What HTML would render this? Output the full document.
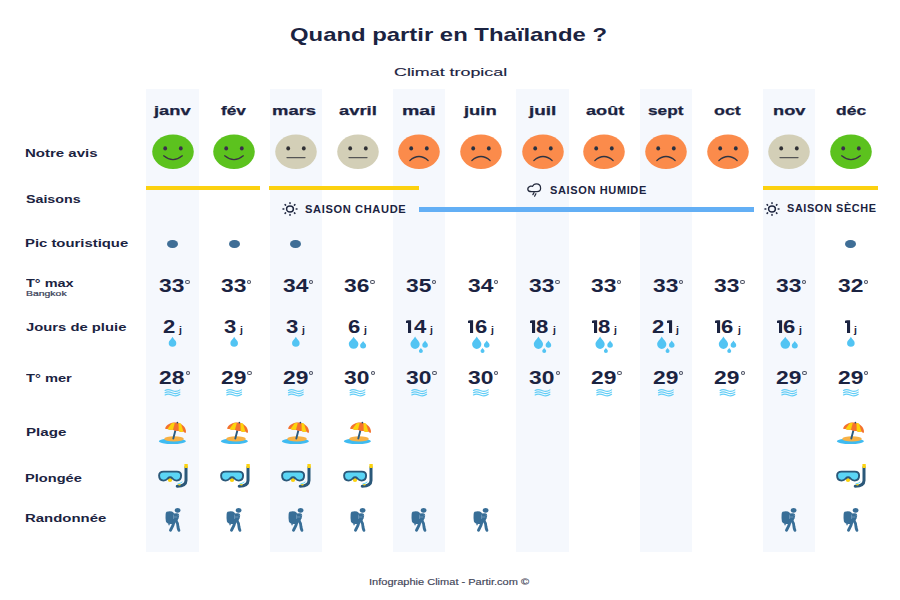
<!DOCTYPE html>
<html><head><meta charset="utf-8"><style>
html,body{margin:0;padding:0;background:#fff;}
body{width:900px;height:600px;position:relative;overflow:hidden;font-family:'Liberation Sans', sans-serif;}
.t{position:absolute;white-space:nowrap;line-height:1;transform-origin:0 0;}
.col{position:absolute;top:89.4px;width:52.4px;height:462.6px;background:#f5f8fd;}
.ln{position:absolute;height:4.2px;}
.ic{position:absolute;overflow:visible;}
.dot{position:absolute;top:239.6px;width:11px;height:8.7px;border-radius:50%;background:#3f6e96;}
.deg{position:absolute;width:2.3px;height:1.9px;border:0.9px solid #4b5062;border-radius:50%;}
</style></head><body>
<div class="col" style="left:146.30px"></div>
<div class="col" style="left:269.64px"></div>
<div class="col" style="left:392.98px"></div>
<div class="col" style="left:516.32px"></div>
<div class="col" style="left:639.66px"></div>
<div class="col" style="left:763.00px"></div>
<svg class="ic" style="left:151.50px;top:134px" width="42" height="36" viewBox="0 0 42 36"><ellipse cx="21" cy="17.75" rx="20.8" ry="17.25" fill="#5cc21e"/><ellipse cx="13.2" cy="14.4" rx="1.9" ry="2.1" fill="#3b2d4b"/><ellipse cx="28.8" cy="14.4" rx="1.9" ry="2.1" fill="#3b2d4b"/><path d="M11.7 21.8 Q21 29.6 30.3 21.8" fill="none" stroke="#3b3145" stroke-width="1.3" stroke-linecap="round"/></svg>
<svg class="ic" style="left:213.17px;top:134px" width="42" height="36" viewBox="0 0 42 36"><ellipse cx="21" cy="17.75" rx="20.8" ry="17.25" fill="#5cc21e"/><ellipse cx="13.2" cy="14.4" rx="1.9" ry="2.1" fill="#3b2d4b"/><ellipse cx="28.8" cy="14.4" rx="1.9" ry="2.1" fill="#3b2d4b"/><path d="M11.7 21.8 Q21 29.6 30.3 21.8" fill="none" stroke="#3b3145" stroke-width="1.3" stroke-linecap="round"/></svg>
<svg class="ic" style="left:274.84px;top:134px" width="42" height="36" viewBox="0 0 42 36"><ellipse cx="21" cy="17.75" rx="20.8" ry="17.25" fill="#d3cfb7"/><ellipse cx="13.2" cy="14.4" rx="1.9" ry="2.1" fill="#2f2f33"/><ellipse cx="28.8" cy="14.4" rx="1.9" ry="2.1" fill="#2f2f33"/><path d="M12 23.6 H30" fill="none" stroke="#555" stroke-width="1.3" stroke-linecap="round"/></svg>
<svg class="ic" style="left:336.51px;top:134px" width="42" height="36" viewBox="0 0 42 36"><ellipse cx="21" cy="17.75" rx="20.8" ry="17.25" fill="#d3cfb7"/><ellipse cx="13.2" cy="14.4" rx="1.9" ry="2.1" fill="#2f2f33"/><ellipse cx="28.8" cy="14.4" rx="1.9" ry="2.1" fill="#2f2f33"/><path d="M12 23.6 H30" fill="none" stroke="#555" stroke-width="1.3" stroke-linecap="round"/></svg>
<svg class="ic" style="left:398.18px;top:134px" width="42" height="36" viewBox="0 0 42 36"><ellipse cx="21" cy="17.75" rx="20.8" ry="17.25" fill="#fb8b4b"/><ellipse cx="13.2" cy="14.4" rx="1.9" ry="2.1" fill="#283040"/><ellipse cx="28.8" cy="14.4" rx="1.9" ry="2.1" fill="#283040"/><path d="M11.9 26.5 Q21 18.6 30.1 26.5" fill="none" stroke="#2e3442" stroke-width="1.3" stroke-linecap="round"/></svg>
<svg class="ic" style="left:459.85px;top:134px" width="42" height="36" viewBox="0 0 42 36"><ellipse cx="21" cy="17.75" rx="20.8" ry="17.25" fill="#fb8b4b"/><ellipse cx="13.2" cy="14.4" rx="1.9" ry="2.1" fill="#283040"/><ellipse cx="28.8" cy="14.4" rx="1.9" ry="2.1" fill="#283040"/><path d="M11.9 26.5 Q21 18.6 30.1 26.5" fill="none" stroke="#2e3442" stroke-width="1.3" stroke-linecap="round"/></svg>
<svg class="ic" style="left:521.52px;top:134px" width="42" height="36" viewBox="0 0 42 36"><ellipse cx="21" cy="17.75" rx="20.8" ry="17.25" fill="#fb8b4b"/><ellipse cx="13.2" cy="14.4" rx="1.9" ry="2.1" fill="#283040"/><ellipse cx="28.8" cy="14.4" rx="1.9" ry="2.1" fill="#283040"/><path d="M11.9 26.5 Q21 18.6 30.1 26.5" fill="none" stroke="#2e3442" stroke-width="1.3" stroke-linecap="round"/></svg>
<svg class="ic" style="left:583.19px;top:134px" width="42" height="36" viewBox="0 0 42 36"><ellipse cx="21" cy="17.75" rx="20.8" ry="17.25" fill="#fb8b4b"/><ellipse cx="13.2" cy="14.4" rx="1.9" ry="2.1" fill="#283040"/><ellipse cx="28.8" cy="14.4" rx="1.9" ry="2.1" fill="#283040"/><path d="M11.9 26.5 Q21 18.6 30.1 26.5" fill="none" stroke="#2e3442" stroke-width="1.3" stroke-linecap="round"/></svg>
<svg class="ic" style="left:644.86px;top:134px" width="42" height="36" viewBox="0 0 42 36"><ellipse cx="21" cy="17.75" rx="20.8" ry="17.25" fill="#fb8b4b"/><ellipse cx="13.2" cy="14.4" rx="1.9" ry="2.1" fill="#283040"/><ellipse cx="28.8" cy="14.4" rx="1.9" ry="2.1" fill="#283040"/><path d="M11.9 26.5 Q21 18.6 30.1 26.5" fill="none" stroke="#2e3442" stroke-width="1.3" stroke-linecap="round"/></svg>
<svg class="ic" style="left:706.53px;top:134px" width="42" height="36" viewBox="0 0 42 36"><ellipse cx="21" cy="17.75" rx="20.8" ry="17.25" fill="#fb8b4b"/><ellipse cx="13.2" cy="14.4" rx="1.9" ry="2.1" fill="#283040"/><ellipse cx="28.8" cy="14.4" rx="1.9" ry="2.1" fill="#283040"/><path d="M11.9 26.5 Q21 18.6 30.1 26.5" fill="none" stroke="#2e3442" stroke-width="1.3" stroke-linecap="round"/></svg>
<svg class="ic" style="left:768.20px;top:134px" width="42" height="36" viewBox="0 0 42 36"><ellipse cx="21" cy="17.75" rx="20.8" ry="17.25" fill="#d3cfb7"/><ellipse cx="13.2" cy="14.4" rx="1.9" ry="2.1" fill="#2f2f33"/><ellipse cx="28.8" cy="14.4" rx="1.9" ry="2.1" fill="#2f2f33"/><path d="M12 23.6 H30" fill="none" stroke="#555" stroke-width="1.3" stroke-linecap="round"/></svg>
<svg class="ic" style="left:829.87px;top:134px" width="42" height="36" viewBox="0 0 42 36"><ellipse cx="21" cy="17.75" rx="20.8" ry="17.25" fill="#5cc21e"/><ellipse cx="13.2" cy="14.4" rx="1.9" ry="2.1" fill="#3b2d4b"/><ellipse cx="28.8" cy="14.4" rx="1.9" ry="2.1" fill="#3b2d4b"/><path d="M11.7 21.8 Q21 29.6 30.3 21.8" fill="none" stroke="#3b3145" stroke-width="1.3" stroke-linecap="round"/></svg>
<div class="ln" style="left:146.2px;width:114px;top:185.8px;background:#fcd10f"></div>
<div class="ln" style="left:269.1px;width:150px;top:185.8px;background:#fcd10f"></div>
<div class="ln" style="left:762.9px;width:114.7px;top:185.7px;background:#fcd10f"></div>
<div class="ln" style="left:419.1px;width:334.5px;top:207.4px;background:#63aff5"></div>
<svg class="ic" style="left:280.70px;top:201.00px" width="18" height="16" viewBox="0 0 18 16"><g stroke="#1f2740" stroke-width="1.5" stroke-linecap="round" fill="none"><ellipse cx="9" cy="8" rx="3.4" ry="2.95"/><line x1="15.21" y1="8.00" x2="16.01" y2="8.00"/><line x1="13.39" y1="11.89" x2="13.95" y2="12.38"/><line x1="9.00" y1="13.50" x2="9.00" y2="14.20"/><line x1="4.61" y1="11.89" x2="4.05" y2="12.38"/><line x1="2.79" y1="8.00" x2="1.99" y2="8.00"/><line x1="4.61" y1="4.11" x2="4.05" y2="3.62"/><line x1="9.00" y1="2.50" x2="9.00" y2="1.80"/><line x1="13.39" y1="4.11" x2="13.95" y2="3.62"/></g></svg>
<svg class="ic" style="left:762.80px;top:201.10px" width="18" height="16" viewBox="0 0 18 16"><g stroke="#1f2740" stroke-width="1.5" stroke-linecap="round" fill="none"><ellipse cx="9" cy="8" rx="3.4" ry="2.95"/><line x1="15.21" y1="8.00" x2="16.01" y2="8.00"/><line x1="13.39" y1="11.89" x2="13.95" y2="12.38"/><line x1="9.00" y1="13.50" x2="9.00" y2="14.20"/><line x1="4.61" y1="11.89" x2="4.05" y2="12.38"/><line x1="2.79" y1="8.00" x2="1.99" y2="8.00"/><line x1="4.61" y1="4.11" x2="4.05" y2="3.62"/><line x1="9.00" y1="2.50" x2="9.00" y2="1.80"/><line x1="13.39" y1="4.11" x2="13.95" y2="3.62"/></g></svg>
<svg class="ic" style="left:526px;top:182px" width="17" height="16" viewBox="0 0 17 16"><g fill="none" stroke="#242a3d" stroke-width="1.25" stroke-linecap="round" stroke-linejoin="round"><path d="M5.5 9.6 H11 Q14.6 9.6 14.6 6.2 Q14.6 1.8 10.3 1.8 Q7.6 1.8 6.6 4.4 Q5.6 3.9 4.5 4.2 Q1.7 5.1 1.8 7.3 Q2.1 9.6 5.5 9.6 Z"/><path d="M8 10.6 L6.9 12.6 M9.9 11.7 L8.6 14.2"/></g></svg>
<div class="dot" style="left:167.00px"></div>
<div class="dot" style="left:228.67px"></div>
<div class="dot" style="left:290.34px"></div>
<div class="dot" style="left:845.37px"></div>
<svg class="ic" style="left:0;top:0" width="900" height="600" viewBox="0 0 900 600"><g fill="#52c4f3"><path d="M172.50 336.70 C171.36 339.22 168.70 340.48 168.70 343.00 A3.80 3.80 0 0 0 176.30 343.00 C176.30 340.48 173.64 339.22 172.50 336.70 Z"/><path d="M234.17 336.70 C233.03 339.22 230.37 340.48 230.37 343.00 A3.80 3.80 0 0 0 237.97 343.00 C237.97 340.48 235.31 339.22 234.17 336.70 Z"/><path d="M295.84 336.70 C294.70 339.22 292.04 340.48 292.04 343.00 A3.80 3.80 0 0 0 299.64 343.00 C299.64 340.48 296.98 339.22 295.84 336.70 Z"/><path d="M353.61 336.70 C352.17 339.72 348.81 340.98 348.81 344.00 A4.80 4.80 0 0 0 358.41 344.00 C358.41 340.98 355.05 339.72 353.61 336.70 Z"/><path d="M363.11 341.00 C362.21 342.85 360.11 343.55 360.11 345.40 A3.00 3.00 0 0 0 366.11 345.40 C366.11 343.55 364.01 342.85 363.11 341.00 Z"/><path d="M415.08 336.60 C413.70 339.68 410.48 341.23 410.48 344.30 A4.60 4.60 0 0 0 419.68 344.30 C419.68 341.23 416.46 339.68 415.08 336.60 Z"/><path d="M425.08 340.50 C424.24 342.32 422.28 343.18 422.28 345.00 A2.80 2.80 0 0 0 427.88 345.00 C427.88 343.18 425.92 342.32 425.08 340.50 Z"/><path d="M420.88 347.90 C420.28 349.15 418.88 349.65 418.88 350.90 A2.00 2.00 0 0 0 422.88 350.90 C422.88 349.65 421.48 349.15 420.88 347.90 Z"/><path d="M476.75 336.60 C475.37 339.68 472.15 341.23 472.15 344.30 A4.60 4.60 0 0 0 481.35 344.30 C481.35 341.23 478.13 339.68 476.75 336.60 Z"/><path d="M486.75 340.50 C485.91 342.32 483.95 343.18 483.95 345.00 A2.80 2.80 0 0 0 489.55 345.00 C489.55 343.18 487.59 342.32 486.75 340.50 Z"/><path d="M482.55 347.90 C481.95 349.15 480.55 349.65 480.55 350.90 A2.00 2.00 0 0 0 484.55 350.90 C484.55 349.65 483.15 349.15 482.55 347.90 Z"/><path d="M538.42 336.60 C537.04 339.68 533.82 341.23 533.82 344.30 A4.60 4.60 0 0 0 543.02 344.30 C543.02 341.23 539.80 339.68 538.42 336.60 Z"/><path d="M548.42 340.50 C547.58 342.32 545.62 343.18 545.62 345.00 A2.80 2.80 0 0 0 551.22 345.00 C551.22 343.18 549.26 342.32 548.42 340.50 Z"/><path d="M544.22 347.90 C543.62 349.15 542.22 349.65 542.22 350.90 A2.00 2.00 0 0 0 546.22 350.90 C546.22 349.65 544.82 349.15 544.22 347.90 Z"/><path d="M600.09 336.60 C598.71 339.68 595.49 341.23 595.49 344.30 A4.60 4.60 0 0 0 604.69 344.30 C604.69 341.23 601.47 339.68 600.09 336.60 Z"/><path d="M610.09 340.50 C609.25 342.32 607.29 343.18 607.29 345.00 A2.80 2.80 0 0 0 612.89 345.00 C612.89 343.18 610.93 342.32 610.09 340.50 Z"/><path d="M605.89 347.90 C605.29 349.15 603.89 349.65 603.89 350.90 A2.00 2.00 0 0 0 607.89 350.90 C607.89 349.65 606.49 349.15 605.89 347.90 Z"/><path d="M661.76 336.60 C660.38 339.68 657.16 341.23 657.16 344.30 A4.60 4.60 0 0 0 666.36 344.30 C666.36 341.23 663.14 339.68 661.76 336.60 Z"/><path d="M671.76 340.50 C670.92 342.32 668.96 343.18 668.96 345.00 A2.80 2.80 0 0 0 674.56 345.00 C674.56 343.18 672.60 342.32 671.76 340.50 Z"/><path d="M667.56 347.90 C666.96 349.15 665.56 349.65 665.56 350.90 A2.00 2.00 0 0 0 669.56 350.90 C669.56 349.65 668.16 349.15 667.56 347.90 Z"/><path d="M723.43 336.60 C722.05 339.68 718.83 341.23 718.83 344.30 A4.60 4.60 0 0 0 728.03 344.30 C728.03 341.23 724.81 339.68 723.43 336.60 Z"/><path d="M733.43 340.50 C732.59 342.32 730.63 343.18 730.63 345.00 A2.80 2.80 0 0 0 736.23 345.00 C736.23 343.18 734.27 342.32 733.43 340.50 Z"/><path d="M729.23 347.90 C728.63 349.15 727.23 349.65 727.23 350.90 A2.00 2.00 0 0 0 731.23 350.90 C731.23 349.65 729.83 349.15 729.23 347.90 Z"/><path d="M785.30 336.70 C783.86 339.72 780.50 340.98 780.50 344.00 A4.80 4.80 0 0 0 790.10 344.00 C790.10 340.98 786.74 339.72 785.30 336.70 Z"/><path d="M794.80 341.00 C793.90 342.85 791.80 343.55 791.80 345.40 A3.00 3.00 0 0 0 797.80 345.40 C797.80 343.55 795.70 342.85 794.80 341.00 Z"/><path d="M850.87 336.70 C849.73 339.22 847.07 340.48 847.07 343.00 A3.80 3.80 0 0 0 854.67 343.00 C854.67 340.48 852.01 339.22 850.87 336.70 Z"/></g><g fill="none" stroke="#62cdf6" stroke-width="1.15" stroke-linecap="round"><path d="M165.10 390.50 C168.10 388.60 170.60 390.00 172.60 390.80 S177.60 391.60 179.90 389.90"/><path d="M165.10 392.70 C168.10 390.80 170.60 392.20 172.60 393.00 S177.60 393.80 179.90 392.10"/><path d="M165.10 394.90 C168.10 393.00 170.60 394.40 172.60 395.20 S177.60 396.00 179.90 394.30"/><path d="M226.77 390.50 C229.77 388.60 232.27 390.00 234.27 390.80 S239.27 391.60 241.57 389.90"/><path d="M226.77 392.70 C229.77 390.80 232.27 392.20 234.27 393.00 S239.27 393.80 241.57 392.10"/><path d="M226.77 394.90 C229.77 393.00 232.27 394.40 234.27 395.20 S239.27 396.00 241.57 394.30"/><path d="M288.44 390.50 C291.44 388.60 293.94 390.00 295.94 390.80 S300.94 391.60 303.24 389.90"/><path d="M288.44 392.70 C291.44 390.80 293.94 392.20 295.94 393.00 S300.94 393.80 303.24 392.10"/><path d="M288.44 394.90 C291.44 393.00 293.94 394.40 295.94 395.20 S300.94 396.00 303.24 394.30"/><path d="M350.11 390.50 C353.11 388.60 355.61 390.00 357.61 390.80 S362.61 391.60 364.91 389.90"/><path d="M350.11 392.70 C353.11 390.80 355.61 392.20 357.61 393.00 S362.61 393.80 364.91 392.10"/><path d="M350.11 394.90 C353.11 393.00 355.61 394.40 357.61 395.20 S362.61 396.00 364.91 394.30"/><path d="M411.78 390.50 C414.78 388.60 417.28 390.00 419.28 390.80 S424.28 391.60 426.58 389.90"/><path d="M411.78 392.70 C414.78 390.80 417.28 392.20 419.28 393.00 S424.28 393.80 426.58 392.10"/><path d="M411.78 394.90 C414.78 393.00 417.28 394.40 419.28 395.20 S424.28 396.00 426.58 394.30"/><path d="M473.45 390.50 C476.45 388.60 478.95 390.00 480.95 390.80 S485.95 391.60 488.25 389.90"/><path d="M473.45 392.70 C476.45 390.80 478.95 392.20 480.95 393.00 S485.95 393.80 488.25 392.10"/><path d="M473.45 394.90 C476.45 393.00 478.95 394.40 480.95 395.20 S485.95 396.00 488.25 394.30"/><path d="M535.12 390.50 C538.12 388.60 540.62 390.00 542.62 390.80 S547.62 391.60 549.92 389.90"/><path d="M535.12 392.70 C538.12 390.80 540.62 392.20 542.62 393.00 S547.62 393.80 549.92 392.10"/><path d="M535.12 394.90 C538.12 393.00 540.62 394.40 542.62 395.20 S547.62 396.00 549.92 394.30"/><path d="M596.79 390.50 C599.79 388.60 602.29 390.00 604.29 390.80 S609.29 391.60 611.59 389.90"/><path d="M596.79 392.70 C599.79 390.80 602.29 392.20 604.29 393.00 S609.29 393.80 611.59 392.10"/><path d="M596.79 394.90 C599.79 393.00 602.29 394.40 604.29 395.20 S609.29 396.00 611.59 394.30"/><path d="M658.46 390.50 C661.46 388.60 663.96 390.00 665.96 390.80 S670.96 391.60 673.26 389.90"/><path d="M658.46 392.70 C661.46 390.80 663.96 392.20 665.96 393.00 S670.96 393.80 673.26 392.10"/><path d="M658.46 394.90 C661.46 393.00 663.96 394.40 665.96 395.20 S670.96 396.00 673.26 394.30"/><path d="M720.13 390.50 C723.13 388.60 725.63 390.00 727.63 390.80 S732.63 391.60 734.93 389.90"/><path d="M720.13 392.70 C723.13 390.80 725.63 392.20 727.63 393.00 S732.63 393.80 734.93 392.10"/><path d="M720.13 394.90 C723.13 393.00 725.63 394.40 727.63 395.20 S732.63 396.00 734.93 394.30"/><path d="M781.80 390.50 C784.80 388.60 787.30 390.00 789.30 390.80 S794.30 391.60 796.60 389.90"/><path d="M781.80 392.70 C784.80 390.80 787.30 392.20 789.30 393.00 S794.30 393.80 796.60 392.10"/><path d="M781.80 394.90 C784.80 393.00 787.30 394.40 789.30 395.20 S794.30 396.00 796.60 394.30"/><path d="M843.47 390.50 C846.47 388.60 848.97 390.00 850.97 390.80 S855.97 391.60 858.27 389.90"/><path d="M843.47 392.70 C846.47 390.80 848.97 392.20 850.97 393.00 S855.97 393.80 858.27 392.10"/><path d="M843.47 394.90 C846.47 393.00 848.97 394.40 850.97 395.20 S855.97 396.00 858.27 394.30"/></g></svg>
<svg class="ic" style="left:158.00px;top:419px" width="30" height="27" viewBox="0 0 30 27"><ellipse cx="14.4" cy="22.2" rx="13.5" ry="2.9" fill="#3fbbf1"/><ellipse cx="16" cy="19.9" rx="9.8" ry="2.7" fill="#f7b145"/><path d="M17.3 11.8 L15.3 19.6" stroke="#2a5b80" stroke-width="1.9" stroke-linecap="round"/><path d="M7.1 9.4 C8.5 5.2 14 3.2 18.2 3.6 C23.5 4.2 28.4 8.2 28 13.4 Q27 14.2 25.3 12.4 Q23.2 13.4 20.6 11.9 Q17.6 12.4 14.8 10.7 Q12 11 9.5 9.9 Q8 10.3 7.1 9.4 Z" fill="#f4712f"/><path d="M13.6 4.2 L9.5 9.9 Q12.1 11.1 15 10.8 L16.8 3.7 Z" fill="#fcd30c"/><path d="M20.5 3.9 L20.7 11.95 Q23.3 13.5 25.4 12.5 L23 4.6 Z" fill="#fcd30c"/><circle cx="19.4" cy="3.6" r="0.85" fill="#2a4a66"/></svg>
<svg class="ic" style="left:156.00px;top:462px" width="34" height="28" viewBox="0 0 34 28"><path d="M30 5 V18.6 Q30 24.1 21.2 24.3" fill="none" stroke="#2b5879" stroke-width="3" stroke-linecap="round"/><rect x="28.4" y="2.1" width="3.4" height="3.8" rx="0.5" fill="#fcd30f"/><path d="M21.5 21.9 Q24.4 21.6 26.4 19.8" stroke="#4dd5f7" stroke-width="0.9" fill="none"/><ellipse cx="23.4" cy="22.7" rx="1.4" ry="0.8" fill="#fcd30f"/><ellipse cx="14" cy="17.9" rx="2.2" ry="2" fill="#fcd30f"/><path d="M7.5 9.6 H20.8 Q25.1 9.6 25.1 13.6 Q25.1 18.6 20.6 18.6 Q18.2 18.6 16.4 16.5 Q14.1 14.1 11.8 16.5 Q10 18.6 7.6 18.6 Q3.1 18.6 3.1 13.6 Q3.1 9.6 7.5 9.6 Z" fill="#5bd5f5" stroke="#2b5879" stroke-width="1.9"/></svg>
<svg class="ic" style="left:157.70px;top:502px" width="30" height="32" viewBox="0 0 30 32"><g fill="#386e97"><ellipse cx="19.6" cy="8.35" rx="2.85" ry="2.3"/><path d="M8.6 9.7 Q11.5 8.7 14 9.5 Q16.3 10.3 16.2 13 L16.1 19.2 Q15.6 22 12.4 22 Q8.8 21.8 7.9 19.4 Q7.3 16 7.6 12.4 Q7.6 10.3 8.6 9.7 Z"/><path d="M14.5 11.6 L19.2 11.3 Q21.4 11.5 21.2 13.8 L20.6 16.3 L18.8 19.8 L15.2 19.8 Z"/><path d="M10.4 20.5 H11.7 V23.2 H10.4 Z"/></g><g fill="none" stroke="#386e97" stroke-width="2.9" stroke-linecap="round" stroke-linejoin="round"><path d="M16.4 18.4 Q15.6 22.6 12.5 28.2"/><path d="M17.9 18.6 Q20.3 21.8 19.9 24.4 Q20.1 26.4 20.9 28.3"/></g><path d="M15.6 13 V16.6 M15.6 15 H19 M20 13.3 L20.6 13.6" stroke="#7ea4c2" stroke-width="0.7" stroke-linecap="round" fill="none"/></svg>
<svg class="ic" style="left:219.67px;top:419px" width="30" height="27" viewBox="0 0 30 27"><ellipse cx="14.4" cy="22.2" rx="13.5" ry="2.9" fill="#3fbbf1"/><ellipse cx="16" cy="19.9" rx="9.8" ry="2.7" fill="#f7b145"/><path d="M17.3 11.8 L15.3 19.6" stroke="#2a5b80" stroke-width="1.9" stroke-linecap="round"/><path d="M7.1 9.4 C8.5 5.2 14 3.2 18.2 3.6 C23.5 4.2 28.4 8.2 28 13.4 Q27 14.2 25.3 12.4 Q23.2 13.4 20.6 11.9 Q17.6 12.4 14.8 10.7 Q12 11 9.5 9.9 Q8 10.3 7.1 9.4 Z" fill="#f4712f"/><path d="M13.6 4.2 L9.5 9.9 Q12.1 11.1 15 10.8 L16.8 3.7 Z" fill="#fcd30c"/><path d="M20.5 3.9 L20.7 11.95 Q23.3 13.5 25.4 12.5 L23 4.6 Z" fill="#fcd30c"/><circle cx="19.4" cy="3.6" r="0.85" fill="#2a4a66"/></svg>
<svg class="ic" style="left:217.67px;top:462px" width="34" height="28" viewBox="0 0 34 28"><path d="M30 5 V18.6 Q30 24.1 21.2 24.3" fill="none" stroke="#2b5879" stroke-width="3" stroke-linecap="round"/><rect x="28.4" y="2.1" width="3.4" height="3.8" rx="0.5" fill="#fcd30f"/><path d="M21.5 21.9 Q24.4 21.6 26.4 19.8" stroke="#4dd5f7" stroke-width="0.9" fill="none"/><ellipse cx="23.4" cy="22.7" rx="1.4" ry="0.8" fill="#fcd30f"/><ellipse cx="14" cy="17.9" rx="2.2" ry="2" fill="#fcd30f"/><path d="M7.5 9.6 H20.8 Q25.1 9.6 25.1 13.6 Q25.1 18.6 20.6 18.6 Q18.2 18.6 16.4 16.5 Q14.1 14.1 11.8 16.5 Q10 18.6 7.6 18.6 Q3.1 18.6 3.1 13.6 Q3.1 9.6 7.5 9.6 Z" fill="#5bd5f5" stroke="#2b5879" stroke-width="1.9"/></svg>
<svg class="ic" style="left:219.37px;top:502px" width="30" height="32" viewBox="0 0 30 32"><g fill="#386e97"><ellipse cx="19.6" cy="8.35" rx="2.85" ry="2.3"/><path d="M8.6 9.7 Q11.5 8.7 14 9.5 Q16.3 10.3 16.2 13 L16.1 19.2 Q15.6 22 12.4 22 Q8.8 21.8 7.9 19.4 Q7.3 16 7.6 12.4 Q7.6 10.3 8.6 9.7 Z"/><path d="M14.5 11.6 L19.2 11.3 Q21.4 11.5 21.2 13.8 L20.6 16.3 L18.8 19.8 L15.2 19.8 Z"/><path d="M10.4 20.5 H11.7 V23.2 H10.4 Z"/></g><g fill="none" stroke="#386e97" stroke-width="2.9" stroke-linecap="round" stroke-linejoin="round"><path d="M16.4 18.4 Q15.6 22.6 12.5 28.2"/><path d="M17.9 18.6 Q20.3 21.8 19.9 24.4 Q20.1 26.4 20.9 28.3"/></g><path d="M15.6 13 V16.6 M15.6 15 H19 M20 13.3 L20.6 13.6" stroke="#7ea4c2" stroke-width="0.7" stroke-linecap="round" fill="none"/></svg>
<svg class="ic" style="left:281.34px;top:419px" width="30" height="27" viewBox="0 0 30 27"><ellipse cx="14.4" cy="22.2" rx="13.5" ry="2.9" fill="#3fbbf1"/><ellipse cx="16" cy="19.9" rx="9.8" ry="2.7" fill="#f7b145"/><path d="M17.3 11.8 L15.3 19.6" stroke="#2a5b80" stroke-width="1.9" stroke-linecap="round"/><path d="M7.1 9.4 C8.5 5.2 14 3.2 18.2 3.6 C23.5 4.2 28.4 8.2 28 13.4 Q27 14.2 25.3 12.4 Q23.2 13.4 20.6 11.9 Q17.6 12.4 14.8 10.7 Q12 11 9.5 9.9 Q8 10.3 7.1 9.4 Z" fill="#f4712f"/><path d="M13.6 4.2 L9.5 9.9 Q12.1 11.1 15 10.8 L16.8 3.7 Z" fill="#fcd30c"/><path d="M20.5 3.9 L20.7 11.95 Q23.3 13.5 25.4 12.5 L23 4.6 Z" fill="#fcd30c"/><circle cx="19.4" cy="3.6" r="0.85" fill="#2a4a66"/></svg>
<svg class="ic" style="left:279.34px;top:462px" width="34" height="28" viewBox="0 0 34 28"><path d="M30 5 V18.6 Q30 24.1 21.2 24.3" fill="none" stroke="#2b5879" stroke-width="3" stroke-linecap="round"/><rect x="28.4" y="2.1" width="3.4" height="3.8" rx="0.5" fill="#fcd30f"/><path d="M21.5 21.9 Q24.4 21.6 26.4 19.8" stroke="#4dd5f7" stroke-width="0.9" fill="none"/><ellipse cx="23.4" cy="22.7" rx="1.4" ry="0.8" fill="#fcd30f"/><ellipse cx="14" cy="17.9" rx="2.2" ry="2" fill="#fcd30f"/><path d="M7.5 9.6 H20.8 Q25.1 9.6 25.1 13.6 Q25.1 18.6 20.6 18.6 Q18.2 18.6 16.4 16.5 Q14.1 14.1 11.8 16.5 Q10 18.6 7.6 18.6 Q3.1 18.6 3.1 13.6 Q3.1 9.6 7.5 9.6 Z" fill="#5bd5f5" stroke="#2b5879" stroke-width="1.9"/></svg>
<svg class="ic" style="left:281.04px;top:502px" width="30" height="32" viewBox="0 0 30 32"><g fill="#386e97"><ellipse cx="19.6" cy="8.35" rx="2.85" ry="2.3"/><path d="M8.6 9.7 Q11.5 8.7 14 9.5 Q16.3 10.3 16.2 13 L16.1 19.2 Q15.6 22 12.4 22 Q8.8 21.8 7.9 19.4 Q7.3 16 7.6 12.4 Q7.6 10.3 8.6 9.7 Z"/><path d="M14.5 11.6 L19.2 11.3 Q21.4 11.5 21.2 13.8 L20.6 16.3 L18.8 19.8 L15.2 19.8 Z"/><path d="M10.4 20.5 H11.7 V23.2 H10.4 Z"/></g><g fill="none" stroke="#386e97" stroke-width="2.9" stroke-linecap="round" stroke-linejoin="round"><path d="M16.4 18.4 Q15.6 22.6 12.5 28.2"/><path d="M17.9 18.6 Q20.3 21.8 19.9 24.4 Q20.1 26.4 20.9 28.3"/></g><path d="M15.6 13 V16.6 M15.6 15 H19 M20 13.3 L20.6 13.6" stroke="#7ea4c2" stroke-width="0.7" stroke-linecap="round" fill="none"/></svg>
<svg class="ic" style="left:343.01px;top:419px" width="30" height="27" viewBox="0 0 30 27"><ellipse cx="14.4" cy="22.2" rx="13.5" ry="2.9" fill="#3fbbf1"/><ellipse cx="16" cy="19.9" rx="9.8" ry="2.7" fill="#f7b145"/><path d="M17.3 11.8 L15.3 19.6" stroke="#2a5b80" stroke-width="1.9" stroke-linecap="round"/><path d="M7.1 9.4 C8.5 5.2 14 3.2 18.2 3.6 C23.5 4.2 28.4 8.2 28 13.4 Q27 14.2 25.3 12.4 Q23.2 13.4 20.6 11.9 Q17.6 12.4 14.8 10.7 Q12 11 9.5 9.9 Q8 10.3 7.1 9.4 Z" fill="#f4712f"/><path d="M13.6 4.2 L9.5 9.9 Q12.1 11.1 15 10.8 L16.8 3.7 Z" fill="#fcd30c"/><path d="M20.5 3.9 L20.7 11.95 Q23.3 13.5 25.4 12.5 L23 4.6 Z" fill="#fcd30c"/><circle cx="19.4" cy="3.6" r="0.85" fill="#2a4a66"/></svg>
<svg class="ic" style="left:341.01px;top:462px" width="34" height="28" viewBox="0 0 34 28"><path d="M30 5 V18.6 Q30 24.1 21.2 24.3" fill="none" stroke="#2b5879" stroke-width="3" stroke-linecap="round"/><rect x="28.4" y="2.1" width="3.4" height="3.8" rx="0.5" fill="#fcd30f"/><path d="M21.5 21.9 Q24.4 21.6 26.4 19.8" stroke="#4dd5f7" stroke-width="0.9" fill="none"/><ellipse cx="23.4" cy="22.7" rx="1.4" ry="0.8" fill="#fcd30f"/><ellipse cx="14" cy="17.9" rx="2.2" ry="2" fill="#fcd30f"/><path d="M7.5 9.6 H20.8 Q25.1 9.6 25.1 13.6 Q25.1 18.6 20.6 18.6 Q18.2 18.6 16.4 16.5 Q14.1 14.1 11.8 16.5 Q10 18.6 7.6 18.6 Q3.1 18.6 3.1 13.6 Q3.1 9.6 7.5 9.6 Z" fill="#5bd5f5" stroke="#2b5879" stroke-width="1.9"/></svg>
<svg class="ic" style="left:342.71px;top:502px" width="30" height="32" viewBox="0 0 30 32"><g fill="#386e97"><ellipse cx="19.6" cy="8.35" rx="2.85" ry="2.3"/><path d="M8.6 9.7 Q11.5 8.7 14 9.5 Q16.3 10.3 16.2 13 L16.1 19.2 Q15.6 22 12.4 22 Q8.8 21.8 7.9 19.4 Q7.3 16 7.6 12.4 Q7.6 10.3 8.6 9.7 Z"/><path d="M14.5 11.6 L19.2 11.3 Q21.4 11.5 21.2 13.8 L20.6 16.3 L18.8 19.8 L15.2 19.8 Z"/><path d="M10.4 20.5 H11.7 V23.2 H10.4 Z"/></g><g fill="none" stroke="#386e97" stroke-width="2.9" stroke-linecap="round" stroke-linejoin="round"><path d="M16.4 18.4 Q15.6 22.6 12.5 28.2"/><path d="M17.9 18.6 Q20.3 21.8 19.9 24.4 Q20.1 26.4 20.9 28.3"/></g><path d="M15.6 13 V16.6 M15.6 15 H19 M20 13.3 L20.6 13.6" stroke="#7ea4c2" stroke-width="0.7" stroke-linecap="round" fill="none"/></svg>
<svg class="ic" style="left:404.38px;top:502px" width="30" height="32" viewBox="0 0 30 32"><g fill="#386e97"><ellipse cx="19.6" cy="8.35" rx="2.85" ry="2.3"/><path d="M8.6 9.7 Q11.5 8.7 14 9.5 Q16.3 10.3 16.2 13 L16.1 19.2 Q15.6 22 12.4 22 Q8.8 21.8 7.9 19.4 Q7.3 16 7.6 12.4 Q7.6 10.3 8.6 9.7 Z"/><path d="M14.5 11.6 L19.2 11.3 Q21.4 11.5 21.2 13.8 L20.6 16.3 L18.8 19.8 L15.2 19.8 Z"/><path d="M10.4 20.5 H11.7 V23.2 H10.4 Z"/></g><g fill="none" stroke="#386e97" stroke-width="2.9" stroke-linecap="round" stroke-linejoin="round"><path d="M16.4 18.4 Q15.6 22.6 12.5 28.2"/><path d="M17.9 18.6 Q20.3 21.8 19.9 24.4 Q20.1 26.4 20.9 28.3"/></g><path d="M15.6 13 V16.6 M15.6 15 H19 M20 13.3 L20.6 13.6" stroke="#7ea4c2" stroke-width="0.7" stroke-linecap="round" fill="none"/></svg>
<svg class="ic" style="left:466.05px;top:502px" width="30" height="32" viewBox="0 0 30 32"><g fill="#386e97"><ellipse cx="19.6" cy="8.35" rx="2.85" ry="2.3"/><path d="M8.6 9.7 Q11.5 8.7 14 9.5 Q16.3 10.3 16.2 13 L16.1 19.2 Q15.6 22 12.4 22 Q8.8 21.8 7.9 19.4 Q7.3 16 7.6 12.4 Q7.6 10.3 8.6 9.7 Z"/><path d="M14.5 11.6 L19.2 11.3 Q21.4 11.5 21.2 13.8 L20.6 16.3 L18.8 19.8 L15.2 19.8 Z"/><path d="M10.4 20.5 H11.7 V23.2 H10.4 Z"/></g><g fill="none" stroke="#386e97" stroke-width="2.9" stroke-linecap="round" stroke-linejoin="round"><path d="M16.4 18.4 Q15.6 22.6 12.5 28.2"/><path d="M17.9 18.6 Q20.3 21.8 19.9 24.4 Q20.1 26.4 20.9 28.3"/></g><path d="M15.6 13 V16.6 M15.6 15 H19 M20 13.3 L20.6 13.6" stroke="#7ea4c2" stroke-width="0.7" stroke-linecap="round" fill="none"/></svg>
<svg class="ic" style="left:774.40px;top:502px" width="30" height="32" viewBox="0 0 30 32"><g fill="#386e97"><ellipse cx="19.6" cy="8.35" rx="2.85" ry="2.3"/><path d="M8.6 9.7 Q11.5 8.7 14 9.5 Q16.3 10.3 16.2 13 L16.1 19.2 Q15.6 22 12.4 22 Q8.8 21.8 7.9 19.4 Q7.3 16 7.6 12.4 Q7.6 10.3 8.6 9.7 Z"/><path d="M14.5 11.6 L19.2 11.3 Q21.4 11.5 21.2 13.8 L20.6 16.3 L18.8 19.8 L15.2 19.8 Z"/><path d="M10.4 20.5 H11.7 V23.2 H10.4 Z"/></g><g fill="none" stroke="#386e97" stroke-width="2.9" stroke-linecap="round" stroke-linejoin="round"><path d="M16.4 18.4 Q15.6 22.6 12.5 28.2"/><path d="M17.9 18.6 Q20.3 21.8 19.9 24.4 Q20.1 26.4 20.9 28.3"/></g><path d="M15.6 13 V16.6 M15.6 15 H19 M20 13.3 L20.6 13.6" stroke="#7ea4c2" stroke-width="0.7" stroke-linecap="round" fill="none"/></svg>
<svg class="ic" style="left:836.37px;top:419px" width="30" height="27" viewBox="0 0 30 27"><ellipse cx="14.4" cy="22.2" rx="13.5" ry="2.9" fill="#3fbbf1"/><ellipse cx="16" cy="19.9" rx="9.8" ry="2.7" fill="#f7b145"/><path d="M17.3 11.8 L15.3 19.6" stroke="#2a5b80" stroke-width="1.9" stroke-linecap="round"/><path d="M7.1 9.4 C8.5 5.2 14 3.2 18.2 3.6 C23.5 4.2 28.4 8.2 28 13.4 Q27 14.2 25.3 12.4 Q23.2 13.4 20.6 11.9 Q17.6 12.4 14.8 10.7 Q12 11 9.5 9.9 Q8 10.3 7.1 9.4 Z" fill="#f4712f"/><path d="M13.6 4.2 L9.5 9.9 Q12.1 11.1 15 10.8 L16.8 3.7 Z" fill="#fcd30c"/><path d="M20.5 3.9 L20.7 11.95 Q23.3 13.5 25.4 12.5 L23 4.6 Z" fill="#fcd30c"/><circle cx="19.4" cy="3.6" r="0.85" fill="#2a4a66"/></svg>
<svg class="ic" style="left:834.37px;top:462px" width="34" height="28" viewBox="0 0 34 28"><path d="M30 5 V18.6 Q30 24.1 21.2 24.3" fill="none" stroke="#2b5879" stroke-width="3" stroke-linecap="round"/><rect x="28.4" y="2.1" width="3.4" height="3.8" rx="0.5" fill="#fcd30f"/><path d="M21.5 21.9 Q24.4 21.6 26.4 19.8" stroke="#4dd5f7" stroke-width="0.9" fill="none"/><ellipse cx="23.4" cy="22.7" rx="1.4" ry="0.8" fill="#fcd30f"/><ellipse cx="14" cy="17.9" rx="2.2" ry="2" fill="#fcd30f"/><path d="M7.5 9.6 H20.8 Q25.1 9.6 25.1 13.6 Q25.1 18.6 20.6 18.6 Q18.2 18.6 16.4 16.5 Q14.1 14.1 11.8 16.5 Q10 18.6 7.6 18.6 Q3.1 18.6 3.1 13.6 Q3.1 9.6 7.5 9.6 Z" fill="#5bd5f5" stroke="#2b5879" stroke-width="1.9"/></svg>
<svg class="ic" style="left:836.07px;top:502px" width="30" height="32" viewBox="0 0 30 32"><g fill="#386e97"><ellipse cx="19.6" cy="8.35" rx="2.85" ry="2.3"/><path d="M8.6 9.7 Q11.5 8.7 14 9.5 Q16.3 10.3 16.2 13 L16.1 19.2 Q15.6 22 12.4 22 Q8.8 21.8 7.9 19.4 Q7.3 16 7.6 12.4 Q7.6 10.3 8.6 9.7 Z"/><path d="M14.5 11.6 L19.2 11.3 Q21.4 11.5 21.2 13.8 L20.6 16.3 L18.8 19.8 L15.2 19.8 Z"/><path d="M10.4 20.5 H11.7 V23.2 H10.4 Z"/></g><g fill="none" stroke="#386e97" stroke-width="2.9" stroke-linecap="round" stroke-linejoin="round"><path d="M16.4 18.4 Q15.6 22.6 12.5 28.2"/><path d="M17.9 18.6 Q20.3 21.8 19.9 24.4 Q20.1 26.4 20.9 28.3"/></g><path d="M15.6 13 V16.6 M15.6 15 H19 M20 13.3 L20.6 13.6" stroke="#7ea4c2" stroke-width="0.7" stroke-linecap="round" fill="none"/></svg>
<div class="t" style="left:289.91px;top:25.70px;font-size:18.5px;font-weight:700;color:#1b2341;transform:scaleX(1.2902);">Quand partir en Thaïlande ?</div>
<div class="t" style="left:394.00px;top:66.60px;font-size:11.8px;font-weight:400;color:#1b2341;transform:scaleX(1.5135);-webkit-text-stroke:0.15px #1b2341;">Climat tropical</div>
<div class="t" style="left:153.50px;top:104.90px;font-size:12.9px;font-weight:700;color:#1b2341;transform:scaleX(1.4192);-webkit-text-stroke:0.25px #1b2341;">janv</div>
<div class="t" style="left:221.30px;top:104.90px;font-size:12.9px;font-weight:700;color:#1b2341;transform:scaleX(1.3368);-webkit-text-stroke:0.25px #1b2341;">fév</div>
<div class="t" style="left:272.37px;top:104.90px;font-size:12.9px;font-weight:700;color:#1b2341;transform:scaleX(1.4300);-webkit-text-stroke:0.25px #1b2341;">mars</div>
<div class="t" style="left:338.90px;top:104.90px;font-size:12.9px;font-weight:700;color:#1b2341;transform:scaleX(1.4269);-webkit-text-stroke:0.25px #1b2341;">avril</div>
<div class="t" style="left:401.79px;top:104.90px;font-size:12.9px;font-weight:700;color:#1b2341;transform:scaleX(1.5143);-webkit-text-stroke:0.25px #1b2341;">mai</div>
<div class="t" style="left:464.40px;top:104.90px;font-size:12.9px;font-weight:700;color:#1b2341;transform:scaleX(1.4273);-webkit-text-stroke:0.25px #1b2341;">juin</div>
<div class="t" style="left:529.20px;top:104.90px;font-size:12.9px;font-weight:700;color:#1b2341;transform:scaleX(1.4667);-webkit-text-stroke:0.25px #1b2341;">juil</div>
<div class="t" style="left:585.60px;top:104.90px;font-size:12.9px;font-weight:700;color:#1b2341;transform:scaleX(1.4074);-webkit-text-stroke:0.25px #1b2341;">août</div>
<div class="t" style="left:647.80px;top:104.90px;font-size:12.9px;font-weight:700;color:#1b2341;transform:scaleX(1.3370);-webkit-text-stroke:0.25px #1b2341;">sept</div>
<div class="t" style="left:714.40px;top:104.90px;font-size:12.9px;font-weight:700;color:#1b2341;transform:scaleX(1.3842);-webkit-text-stroke:0.25px #1b2341;">oct</div>
<div class="t" style="left:772.59px;top:104.90px;font-size:12.9px;font-weight:700;color:#1b2341;transform:scaleX(1.4136);-webkit-text-stroke:0.25px #1b2341;">nov</div>
<div class="t" style="left:836.20px;top:104.90px;font-size:12.9px;font-weight:700;color:#1b2341;transform:scaleX(1.3545);-webkit-text-stroke:0.25px #1b2341;">déc</div>
<div class="t" style="left:24.73px;top:147.70px;font-size:11.8px;font-weight:700;color:#1b2341;transform:scaleX(1.2714);">Notre avis</div>
<div class="t" style="left:26.00px;top:194.30px;font-size:11.8px;font-weight:700;color:#1b2341;transform:scaleX(1.2067);">Saisons</div>
<div class="t" style="left:24.74px;top:237.60px;font-size:11.8px;font-weight:700;color:#1b2341;transform:scaleX(1.2593);">Pic touristique</div>
<div class="t" style="left:26.10px;top:277.70px;font-size:11.8px;font-weight:700;color:#1b2341;transform:scaleX(1.2256);">T° max</div>
<div class="t" style="left:26.00px;top:322.00px;font-size:11.8px;font-weight:700;color:#1b2341;transform:scaleX(1.2550);">Jours de pluie</div>
<div class="t" style="left:26.00px;top:372.80px;font-size:11.8px;font-weight:700;color:#1b2341;transform:scaleX(1.2432);">T° mer</div>
<div class="t" style="left:25.72px;top:426.70px;font-size:11.8px;font-weight:700;color:#1b2341;transform:scaleX(1.2833);">Plage</div>
<div class="t" style="left:24.76px;top:473.00px;font-size:11.8px;font-weight:700;color:#1b2341;transform:scaleX(1.2378);">Plongée</div>
<div class="t" style="left:24.73px;top:512.60px;font-size:11.8px;font-weight:700;color:#1b2341;transform:scaleX(1.2651);">Randonnée</div>
<div class="t" style="left:26.10px;top:290.90px;font-size:6.8px;font-weight:400;color:#384058;transform:scaleX(1.5346);-webkit-text-stroke:0.2px #384058;">Bangkok</div>
<div class="t" style="left:305.30px;top:204.80px;font-size:10.4px;font-weight:700;color:#1b2341;transform:scaleX(1.0670);letter-spacing:0.6px;">SAISON CHAUDE</div>
<div class="t" style="left:549.90px;top:185.70px;font-size:10.4px;font-weight:700;color:#1b2341;transform:scaleX(1.0593);letter-spacing:0.6px;">SAISON HUMIDE</div>
<div class="t" style="left:787.20px;top:204.00px;font-size:10.4px;font-weight:700;color:#1b2341;transform:scaleX(1.0459);letter-spacing:0.6px;">SAISON SÈCHE</div>
<div class="t" style="left:369.18px;top:578.40px;font-size:9.0px;font-weight:400;color:#3f4558;transform:scaleX(1.2246);-webkit-text-stroke:0.15px #3f4558;">Infographie Climat - Partir.com ©</div>
<div class="t" style="left:159.35px;top:277.40px;font-size:18.2px;font-weight:700;color:#1b2341;transform:scaleX(1.2526);">33</div>
<div class="deg" style="left:185.30px;top:280.1px"></div>
<div class="t" style="left:159.35px;top:368.60px;font-size:18.2px;font-weight:700;color:#1b2341;transform:scaleX(1.2526);">28</div>
<div class="deg" style="left:185.60px;top:371.1px"></div>
<div class="t" style="left:162.67px;top:317.90px;font-size:18.2px;font-weight:700;color:#1b2341;transform:scaleX(1.2151);">2</div>
<div class="t" style="left:178.82px;top:326.00px;font-size:9px;font-weight:700;color:#1b2341;transform:scaleX(1.1500);">j</div>
<div class="t" style="left:221.02px;top:277.40px;font-size:18.2px;font-weight:700;color:#1b2341;transform:scaleX(1.2526);">33</div>
<div class="deg" style="left:246.97px;top:280.1px"></div>
<div class="t" style="left:221.02px;top:368.60px;font-size:18.2px;font-weight:700;color:#1b2341;transform:scaleX(1.2526);">29</div>
<div class="deg" style="left:247.27px;top:371.1px"></div>
<div class="t" style="left:224.34px;top:317.90px;font-size:18.2px;font-weight:700;color:#1b2341;transform:scaleX(1.2151);">3</div>
<div class="t" style="left:240.49px;top:326.00px;font-size:9px;font-weight:700;color:#1b2341;transform:scaleX(1.1500);">j</div>
<div class="t" style="left:282.69px;top:277.40px;font-size:18.2px;font-weight:700;color:#1b2341;transform:scaleX(1.2526);">34</div>
<div class="deg" style="left:308.64px;top:280.1px"></div>
<div class="t" style="left:282.69px;top:368.60px;font-size:18.2px;font-weight:700;color:#1b2341;transform:scaleX(1.2526);">29</div>
<div class="deg" style="left:308.94px;top:371.1px"></div>
<div class="t" style="left:286.01px;top:317.90px;font-size:18.2px;font-weight:700;color:#1b2341;transform:scaleX(1.2151);">3</div>
<div class="t" style="left:302.16px;top:326.00px;font-size:9px;font-weight:700;color:#1b2341;transform:scaleX(1.1500);">j</div>
<div class="t" style="left:344.36px;top:277.40px;font-size:18.2px;font-weight:700;color:#1b2341;transform:scaleX(1.2526);">36</div>
<div class="deg" style="left:370.31px;top:280.1px"></div>
<div class="t" style="left:344.36px;top:368.60px;font-size:18.2px;font-weight:700;color:#1b2341;transform:scaleX(1.2526);">30</div>
<div class="deg" style="left:370.61px;top:371.1px"></div>
<div class="t" style="left:347.68px;top:317.90px;font-size:18.2px;font-weight:700;color:#1b2341;transform:scaleX(1.2151);">6</div>
<div class="t" style="left:363.83px;top:326.00px;font-size:9px;font-weight:700;color:#1b2341;transform:scaleX(1.1500);">j</div>
<div class="t" style="left:406.03px;top:277.40px;font-size:18.2px;font-weight:700;color:#1b2341;transform:scaleX(1.2526);">35</div>
<div class="deg" style="left:431.98px;top:280.1px"></div>
<div class="t" style="left:406.03px;top:368.60px;font-size:18.2px;font-weight:700;color:#1b2341;transform:scaleX(1.2526);">30</div>
<div class="deg" style="left:432.28px;top:371.1px"></div>
<svg class="ic" style="left:406.20px;top:320px" width="6" height="13" viewBox="0 0 6 13"><path d="M2 0.2 H5.1 V12.9 H2 V2.9 L0 3.1 V0.8 Z" fill="#1b2341"/></svg>
<div class="t" style="left:413.70px;top:317.90px;font-size:18.2px;font-weight:700;color:#1b2341;transform:scaleX(1.2151);">4</div>
<div class="t" style="left:429.86px;top:326.00px;font-size:9px;font-weight:700;color:#1b2341;transform:scaleX(1.1500);">j</div>
<div class="t" style="left:467.70px;top:277.40px;font-size:18.2px;font-weight:700;color:#1b2341;transform:scaleX(1.2526);">34</div>
<div class="deg" style="left:493.65px;top:280.1px"></div>
<div class="t" style="left:467.70px;top:368.60px;font-size:18.2px;font-weight:700;color:#1b2341;transform:scaleX(1.2526);">30</div>
<div class="deg" style="left:493.95px;top:371.1px"></div>
<svg class="ic" style="left:468.48px;top:320px" width="6" height="13" viewBox="0 0 6 13"><path d="M2 0.2 H5.1 V12.9 H2 V2.9 L0 3.1 V0.8 Z" fill="#1b2341"/></svg>
<div class="t" style="left:474.77px;top:317.90px;font-size:18.2px;font-weight:700;color:#1b2341;transform:scaleX(1.2151);">6</div>
<div class="t" style="left:490.92px;top:326.00px;font-size:9px;font-weight:700;color:#1b2341;transform:scaleX(1.1500);">j</div>
<div class="t" style="left:529.37px;top:277.40px;font-size:18.2px;font-weight:700;color:#1b2341;transform:scaleX(1.2526);">33</div>
<div class="deg" style="left:555.32px;top:280.1px"></div>
<div class="t" style="left:529.37px;top:368.60px;font-size:18.2px;font-weight:700;color:#1b2341;transform:scaleX(1.2526);">30</div>
<div class="deg" style="left:555.62px;top:371.1px"></div>
<svg class="ic" style="left:530.15px;top:320px" width="6" height="13" viewBox="0 0 6 13"><path d="M2 0.2 H5.1 V12.9 H2 V2.9 L0 3.1 V0.8 Z" fill="#1b2341"/></svg>
<div class="t" style="left:536.44px;top:317.90px;font-size:18.2px;font-weight:700;color:#1b2341;transform:scaleX(1.2151);">8</div>
<div class="t" style="left:552.59px;top:326.00px;font-size:9px;font-weight:700;color:#1b2341;transform:scaleX(1.1500);">j</div>
<div class="t" style="left:591.04px;top:277.40px;font-size:18.2px;font-weight:700;color:#1b2341;transform:scaleX(1.2526);">33</div>
<div class="deg" style="left:616.99px;top:280.1px"></div>
<div class="t" style="left:591.04px;top:368.60px;font-size:18.2px;font-weight:700;color:#1b2341;transform:scaleX(1.2526);">29</div>
<div class="deg" style="left:617.29px;top:371.1px"></div>
<svg class="ic" style="left:591.82px;top:320px" width="6" height="13" viewBox="0 0 6 13"><path d="M2 0.2 H5.1 V12.9 H2 V2.9 L0 3.1 V0.8 Z" fill="#1b2341"/></svg>
<div class="t" style="left:598.11px;top:317.90px;font-size:18.2px;font-weight:700;color:#1b2341;transform:scaleX(1.2151);">8</div>
<div class="t" style="left:614.26px;top:326.00px;font-size:9px;font-weight:700;color:#1b2341;transform:scaleX(1.1500);">j</div>
<div class="t" style="left:652.71px;top:277.40px;font-size:18.2px;font-weight:700;color:#1b2341;transform:scaleX(1.2526);">33</div>
<div class="deg" style="left:678.66px;top:280.1px"></div>
<div class="t" style="left:652.71px;top:368.60px;font-size:18.2px;font-weight:700;color:#1b2341;transform:scaleX(1.2526);">29</div>
<div class="deg" style="left:678.96px;top:371.1px"></div>
<div class="t" style="left:652.28px;top:317.90px;font-size:18.2px;font-weight:700;color:#1b2341;transform:scaleX(1.2151);">2</div>
<svg class="ic" style="left:666.83px;top:320px" width="6" height="13" viewBox="0 0 6 13"><path d="M2 0.2 H5.1 V12.9 H2 V2.9 L0 3.1 V0.8 Z" fill="#1b2341"/></svg>
<div class="t" style="left:675.93px;top:326.00px;font-size:9px;font-weight:700;color:#1b2341;transform:scaleX(1.1500);">j</div>
<div class="t" style="left:714.38px;top:277.40px;font-size:18.2px;font-weight:700;color:#1b2341;transform:scaleX(1.2526);">33</div>
<div class="deg" style="left:740.33px;top:280.1px"></div>
<div class="t" style="left:714.38px;top:368.60px;font-size:18.2px;font-weight:700;color:#1b2341;transform:scaleX(1.2526);">29</div>
<div class="deg" style="left:740.63px;top:371.1px"></div>
<svg class="ic" style="left:715.16px;top:320px" width="6" height="13" viewBox="0 0 6 13"><path d="M2 0.2 H5.1 V12.9 H2 V2.9 L0 3.1 V0.8 Z" fill="#1b2341"/></svg>
<div class="t" style="left:721.45px;top:317.90px;font-size:18.2px;font-weight:700;color:#1b2341;transform:scaleX(1.2151);">6</div>
<div class="t" style="left:737.60px;top:326.00px;font-size:9px;font-weight:700;color:#1b2341;transform:scaleX(1.1500);">j</div>
<div class="t" style="left:776.05px;top:277.40px;font-size:18.2px;font-weight:700;color:#1b2341;transform:scaleX(1.2526);">33</div>
<div class="deg" style="left:802.00px;top:280.1px"></div>
<div class="t" style="left:776.05px;top:368.60px;font-size:18.2px;font-weight:700;color:#1b2341;transform:scaleX(1.2526);">29</div>
<div class="deg" style="left:802.30px;top:371.1px"></div>
<svg class="ic" style="left:776.83px;top:320px" width="6" height="13" viewBox="0 0 6 13"><path d="M2 0.2 H5.1 V12.9 H2 V2.9 L0 3.1 V0.8 Z" fill="#1b2341"/></svg>
<div class="t" style="left:783.12px;top:317.90px;font-size:18.2px;font-weight:700;color:#1b2341;transform:scaleX(1.2151);">6</div>
<div class="t" style="left:799.27px;top:326.00px;font-size:9px;font-weight:700;color:#1b2341;transform:scaleX(1.1500);">j</div>
<div class="t" style="left:837.72px;top:277.40px;font-size:18.2px;font-weight:700;color:#1b2341;transform:scaleX(1.2526);">32</div>
<div class="deg" style="left:863.67px;top:280.1px"></div>
<div class="t" style="left:837.72px;top:368.60px;font-size:18.2px;font-weight:700;color:#1b2341;transform:scaleX(1.2526);">29</div>
<div class="deg" style="left:863.97px;top:371.1px"></div>
<svg class="ic" style="left:845.17px;top:320px" width="6" height="13" viewBox="0 0 6 13"><path d="M2 0.2 H5.1 V12.9 H2 V2.9 L0 3.1 V0.8 Z" fill="#1b2341"/></svg>
<div class="t" style="left:854.27px;top:326.00px;font-size:9px;font-weight:700;color:#1b2341;transform:scaleX(1.1500);">j</div>
</body></html>
